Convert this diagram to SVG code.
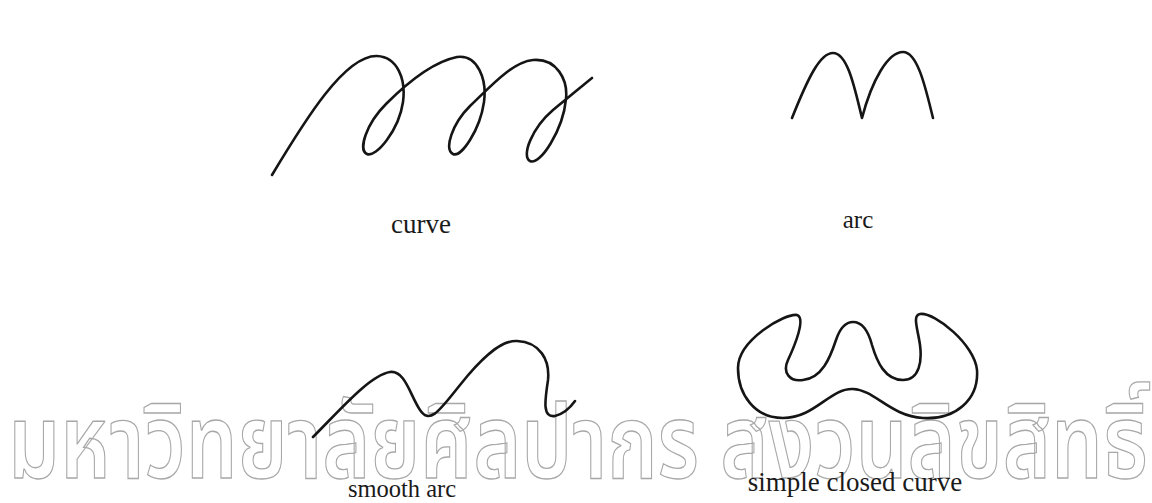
<svg xmlns="http://www.w3.org/2000/svg" width="1152" height="503" viewBox="0 0 1152 503">
<style>
.c{fill:none;stroke:#151515;stroke-width:2.6;stroke-linecap:round;stroke-linejoin:round}
.lbl{font-family:"Liberation Serif","Times New Roman",serif;fill:#1a1a1a;text-anchor:middle}
.wm{font-family:"Noto Sans Thai","Noto Serif Thai","DejaVu Sans",sans-serif;font-weight:600;fill:none;stroke:#a8a8a8;stroke-width:1;font-size:78px}
</style>
<rect width="1152" height="503" fill="#ffffff"/>
<g id="watermark" transform="translate(0,478) scale(1,1.32) translate(0,-478)">
<text class="wm" x="8" y="478" textLength="1140" lengthAdjust="spacingAndGlyphs">มหาวิทยาลัยศิลปากร สงวนลิขสิทธิ์</text>
</g>
<g id="curve">
<path class="c" d="M272,175 C305,120 345,55 377,56 C398,57 406,80 403,102 C399,130 376,158 367,154 C358,150 366,124 386,104 C406,84 432,62 457,57 C478,54 487,80 484,102 C480,130 461,158 453,154 C444,149 452,124 470,106 C490,87 512,62 533,60 C557,58 568,80 566,99 C563,130 540,166 530,161 C521,156 532,128 553,110 C568,98 582,86 592,78"/>
<text class="lbl" x="421" y="233" font-size="27">curve</text>
</g>
<g id="arc">
<path class="c" d="M792,118 C808,78 820,53 833,53 C848,53 855,90 862,118 C872,80 888,52 903,52 C918,52 926,90 933,118"/>
<text class="lbl" x="858" y="228" font-size="25">arc</text>
</g>
<g id="smooth-arc">
<path class="c" d="M313,437 C340,410 370,375 390,372 C405,370 410,395 420,410 C430,425 440,410 460,385 C480,360 500,340 517,341 C540,342 550,360 548,380 C545,400 542,418 555,416 C563,414 570,408 575,401"/>
<text class="lbl" x="402" y="497" font-size="24.5">smooth arc</text>
</g>
<g id="closed-curve">
<path class="c" d="M797,315 C806,318 795,345 788,360 C782,373 790,382 803,380 C822,378 830,358 836,340 C840,328 846,322 853,322 C862,322 868,330 872,345 C877,362 885,380 903,380 C920,380 922,360 920,345 C918,330 912,315 920,314 C935,312 975,345 977,370 C979,400 955,420 923,418 C890,416 875,390 853,389 C830,388 815,418 783,418 C755,418 738,395 738,368 C738,340 785,313 797,315 Z"/>
<text class="lbl" x="855" y="491" font-size="27">simple closed curve</text>
</g>
</svg>
